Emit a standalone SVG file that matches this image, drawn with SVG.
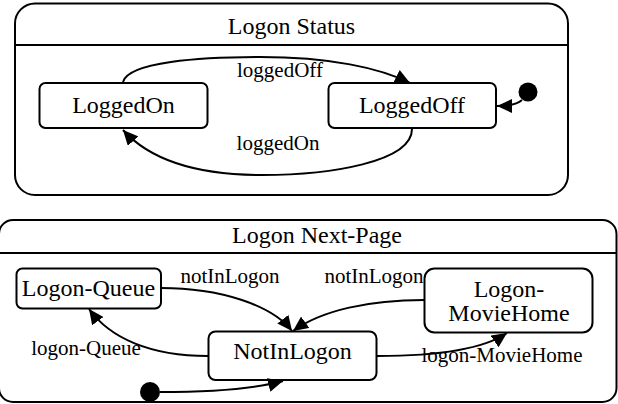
<svg xmlns="http://www.w3.org/2000/svg" width="618" height="404" viewBox="0 0 618 404">
<style>
.box{fill:#fff;stroke:#000;stroke-width:2}
.cont{fill:#fff;stroke:#000;stroke-width:2}
.t{font-family:'Liberation Serif','Tinos','Times New Roman',Times,'DejaVu Serif',serif;font-size:24px;fill:#000;text-anchor:middle}
.l{font-family:'Liberation Serif','Tinos','Times New Roman',Times,'DejaVu Serif',serif;font-size:21px;fill:#000;text-anchor:middle}
.c{fill:none;stroke:#000;stroke-width:2}
</style>
<defs>
<marker id="ah" markerUnits="userSpaceOnUse" markerWidth="16" markerHeight="14" refX="15" refY="7" orient="auto">
<path d="M0,0 L15,7 L0,14 z" fill="#000"/>
</marker>
</defs>
<rect width="618" height="404" fill="#fff"/>
<g id="logon-status">
<rect class="cont" x="15" y="3.5" width="553" height="191.5" rx="20"/>
<line x1="15" y1="45" x2="568" y2="45" stroke="#000" stroke-width="2"/>
<text class="t" x="291.5" y="34">Logon Status</text>
</g>
<g id="logon-next-page">
<rect class="cont" x="-1" y="220" width="617.5" height="182" rx="14"/>
<line x1="0" y1="253" x2="617" y2="253" stroke="#000" stroke-width="2"/>
<text class="t" x="317" y="243">Logon Next-Page</text>
</g>
<g id="LoggedOn">
<rect class="box" x="39.5" y="83" width="168" height="45" rx="6"/>
<text class="t" x="123.5" y="112.5">LoggedOn</text>
</g>
<g id="LoggedOff">
<rect class="box" x="328.5" y="83" width="167.5" height="45" rx="6"/>
<text class="t" x="412" y="112.5">LoggedOff</text>
</g>
<g id="init1">
<circle cx="528" cy="92" r="9.5" fill="#000"/>
</g>
<g id="Logon-Queue">
<rect class="box" x="16.5" y="268.5" width="144.5" height="40" rx="6"/>
<text class="t" x="88.5" y="295.5">Logon-Queue</text>
</g>
<g id="Logon-MovieHome">
<rect class="box" x="424.5" y="268.5" width="168" height="64" rx="10"/>
<text class="t" x="509" y="297">Logon-</text>
<text class="t" x="509" y="320.5">MovieHome</text>
</g>
<g id="NotInLogon">
<rect class="box" x="208.5" y="331.5" width="168" height="48.5" rx="7"/>
<text class="t" x="292.5" y="358.5">NotInLogon</text>
</g>
<g id="init2">
<circle cx="150" cy="392" r="10" fill="#000"/>
</g>
<g id="connectors">
<path class="c" marker-end="url(#ah)" d="M123,82 C128,62 200,57 260,57 C330,57 380,68 410,83"/>
<path class="c" marker-end="url(#ah)" d="M412,129 C412,162 330,175 262,175 C195,175 150,160 123,130"/>
<path class="c" marker-end="url(#ah)" d="M522,100 Q515,106 497,106"/>
<path class="c" marker-end="url(#ah)" d="M161,288 C220,288 272,305 292,331"/>
<path class="c" marker-end="url(#ah)" d="M424,300 C370,300 322,310 293,331"/>
<path class="c" marker-end="url(#ah)" d="M208,356 C150,356 110,338 89,309"/>
<path class="c" marker-end="url(#ah)" d="M377,356 C430,356 482,350 507,333"/>
<path class="c" marker-end="url(#ah)" d="M160,392 C200,392 250,390 283,381"/>
</g>
<g id="labels">
<text class="l" x="280" y="77">loggedOff</text>
<text class="l" x="278" y="150">loggedOn</text>
<text class="l" x="230" y="283">notInLogon</text>
<text class="l" x="374" y="283">notInLogon</text>
<text class="l" x="86" y="355">logon-Queue</text>
<text class="l" x="502" y="362">logon-MovieHome</text>
</g>
</svg>
